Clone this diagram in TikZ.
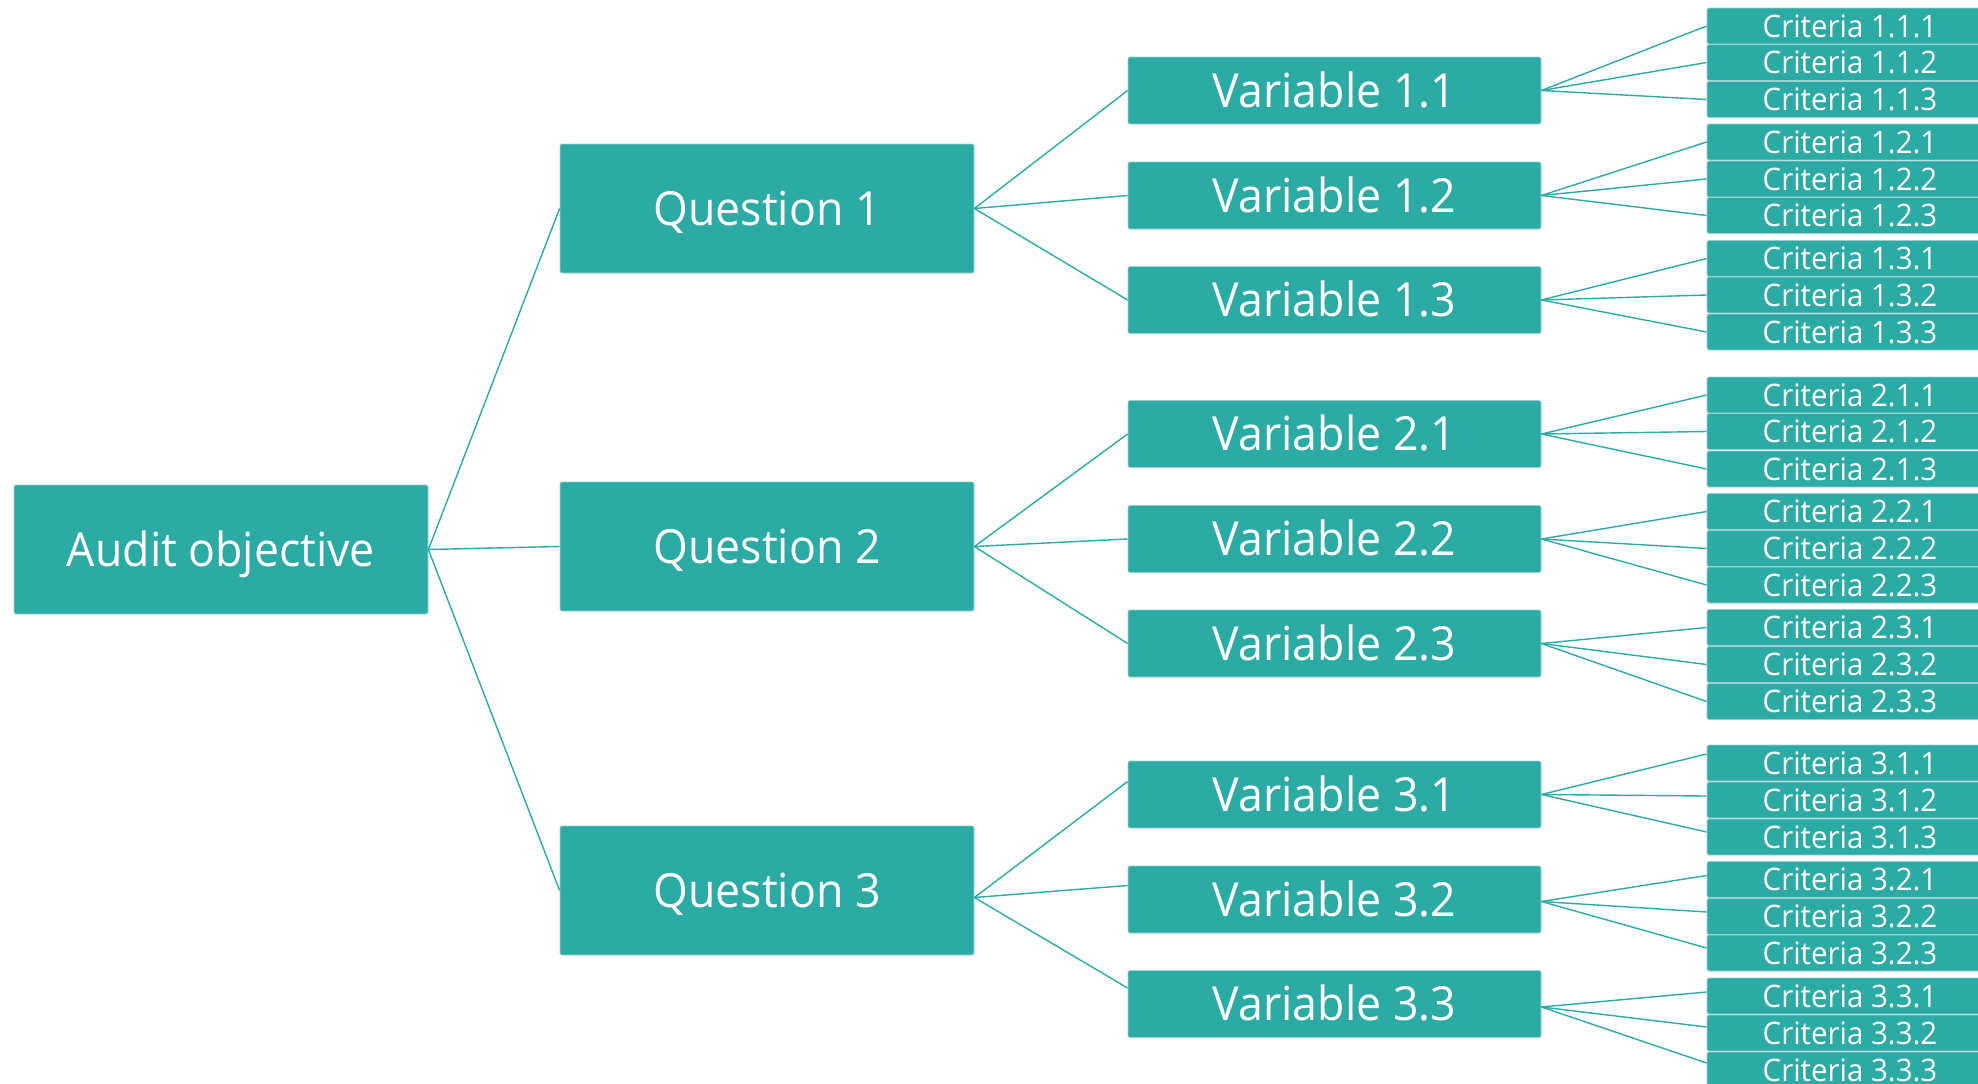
\documentclass[tikz,border=0pt]{standalone}
\usepackage{fontspec}
\setmainfont{Open Sans}[FakeStretch=0.95]
\usetikzlibrary{calc}
\definecolor{tealbox}{RGB}{44,170,164}
\definecolor{tealedge}{RGB}{150,210,206}
\begin{document}
\begin{tikzpicture}[x=1pt,y=-1pt,
  box/.style={rectangle, fill=tealbox, draw=tealedge, line width=0.8pt,
    rounded corners=2pt, text=white, inner sep=0pt, text depth=0pt},
  bigbox/.style={box, minimum width=414pt, minimum height=129pt,
    font=\fontsize{47}{56}\selectfont, text height=33.5pt},
  varbox/.style={box, minimum width=413pt, minimum height=67pt,
    font=\fontsize{47}{56}\selectfont, text height=33.5pt},
  critbox/.style={box, minimum width=286pt, minimum height=36pt,
    font=\fontsize{31}{36}\selectfont, text height=22pt},
  conn/.style={draw=tealbox, line width=1.4pt}]
\clip (0,0) rectangle (1978,1084);
\fill[white] (0,0) rectangle (1978,1084);

\node[bigbox] (aud) at (221,549.5) {Audit objective};
\node[bigbox] (q1) at (767,208.5) {Question 1};
\node[bigbox] (q2) at (767,546.5) {Question 2};
\node[bigbox] (q3) at (767,890.5) {Question 3};

\foreach \a/\b/\y in {1/1/90.5,1/2/195.5,1/3/300,2/1/434,2/2/539,2/3/643.5,3/1/794.5,3/2/899.5,3/3/1004}{
  \node[varbox] (v\a\b) at (1334.5,\y) {Variable \a.\b};
}

\foreach \a/\b/\c/\y in {
  1/1/1/26,1/1/2/62.5,1/1/3/99.5,
  1/2/1/142,1/2/2/179,1/2/3/215.5,
  1/3/1/258.5,1/3/2/295,1/3/3/332,
  2/1/1/395,2/1/2/431.5,2/1/3/469,
  2/2/1/511.5,2/2/2/548.5,2/2/3/585,
  2/3/1/627.5,2/3/2/664.5,2/3/3/701.5,
  3/1/1/763,3/1/2/800,3/1/3/837,
  3/2/1/879.5,3/2/2/916.5,3/2/3/953,
  3/3/1/996,3/3/2/1033,3/3/3/1070}{
  \node[critbox] (c\a\b\c) at (1850,\y) {Criteria \a.\b.\c};
}

% connectors: objective to questions
\foreach \a in {1,2,3}{
  \draw[conn] (aud.east) -- (q\a.west);
}
% questions 1 and 2 branches
\foreach \a in {1,2}{
  \foreach \b in {1,2,3}{
    \draw[conn] (q\a.east) -- (v\a\b.west);
    \foreach \c in {1,2,3}{
      \draw[conn] (v\a\b.east) -- (c\a\b\c.west);
    }
  }
}
% question 3 branches (connector ends sit slightly off-centre in the reference)
\foreach \b/\dy in {1/-13,2/-14,3/-16}{
  \draw[conn] ($(q3.east)+(0,7)$) -- ($(v3\b.west)+(0,\dy)$);
}
\foreach \b/\s/\c/\dy in {1/0/1/-9,1/0/2/-4,1/0/3/-5,
                          2/2/1/-4,2/2/2/-4.5,2/2/3/-5,
                          3/3/1/-4,3/3/2/-6,3/3/3/-7}{
  \draw[conn] ($(v3\b.east)+(0,\s)$) -- ($(c3\b\c.west)+(0,\dy)$);
}
\end{tikzpicture}
\end{document}
